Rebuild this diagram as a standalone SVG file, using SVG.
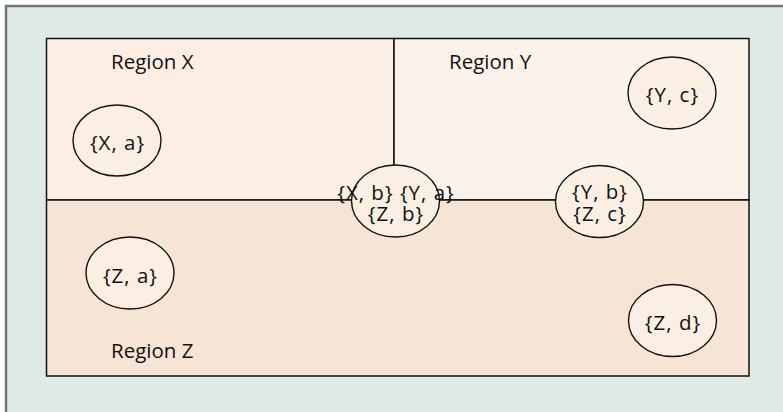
<svg xmlns="http://www.w3.org/2000/svg" width="783" height="412" viewBox="0 0 783 412">
<style>
.lbl{font-family:"Open Sans","Noto Sans","Liberation Sans",sans-serif;font-size:20.5px;fill:#111}
.c{text-anchor:middle;letter-spacing:1px}
.reg{stroke:#111;stroke-width:1.5}
.node{fill:#fbeee3;stroke:#111;stroke-width:1.4}
</style>
<rect x="6" y="6" width="790" height="420" fill="#dfeae7" stroke="#777" stroke-width="2.5"/>
<g id="region-x">
<rect class="reg" x="46.5" y="38.5" width="347.5" height="161.5" fill="#fdeee4"/>
<text class="lbl" x="111" y="69">Region X</text>
</g>
<g id="region-y">
<rect class="reg" x="394" y="38.5" width="355" height="161.5" fill="#fbf2ec"/>
<text class="lbl" x="449" y="69">Region Y</text>
</g>
<g id="region-z">
<rect class="reg" x="46.5" y="200" width="702.5" height="176" fill="#f6e4d5"/>
<text class="lbl" x="111" y="358">Region Z</text>
</g>
<g id="connectors"></g>
<g id="node-xa">
<ellipse class="node" cx="117" cy="140.5" rx="44" ry="35.5"/>
<text class="lbl c" x="117.5" y="150">{X, a}</text>
</g>
<g id="node-yc">
<ellipse class="node" cx="672" cy="93" rx="44" ry="36"/>
<text class="lbl c" x="672.5" y="102">{Y, c}</text>
</g>
<g id="node-za">
<ellipse class="node" cx="130" cy="273" rx="44" ry="36"/>
<text class="lbl c" x="130.5" y="282.5">{Z, a}</text>
</g>
<g id="node-zd">
<ellipse class="node" cx="672.5" cy="320.5" rx="44" ry="36"/>
<text class="lbl c" x="673" y="329.5">{Z, d}</text>
</g>
<g id="node-xb-ya-zb">
<ellipse class="node" cx="395.5" cy="201" rx="44" ry="36"/>
<text class="lbl c" x="396" y="200">{X, b} {Y, a}</text>
<text class="lbl c" x="396" y="221">{Z, b}</text>
</g>
<g id="node-yb-zc">
<ellipse class="node" cx="599.5" cy="201.5" rx="44" ry="36"/>
<text class="lbl c" x="600" y="199">{Y, b}</text>
<text class="lbl c" x="600" y="221">{Z, c}</text>
</g>
</svg>
